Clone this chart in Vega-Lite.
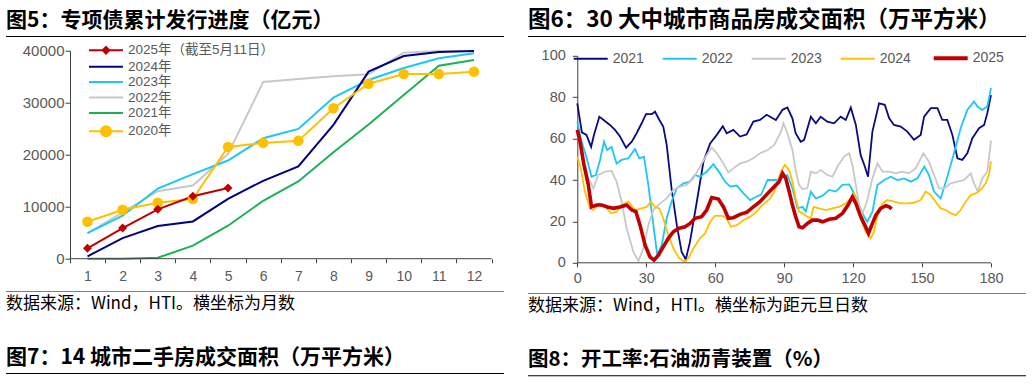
{
"$schema": "https://vega.github.io/schema/vega-lite/v6.json",
"background": "white",
"padding": {"left": 6, "top": 8, "right": 0, "bottom": 0},
"config": {
  "view": {"stroke": null},
  "font": "Liberation Sans, Noto Sans CJK SC",
  "title": {"anchor": "start", "font": "Noto Sans CJK SC", "fontSize": 21, "fontWeight": "bold", "color": "#000000", "offset": 5},
  "axis": {"domainColor": "#404040", "tickColor": "#404040", "labelColor": "#595959", "labelFont": "Liberation Sans", "grid": false, "title": null, "domainWidth": 1, "tickWidth": 1, "labelFlush": false, "labelOverlap": false}
},
"datasets": {
  "bonds": [
    {"s":"2021年","m":1,"v":0},{"s":"2021年","m":2,"v":0},{"s":"2021年","m":3,"v":190},{"s":"2021年","m":4,"v":2500},{"s":"2021年","m":5,"v":6340},{"s":"2021年","m":6,"v":11140},{"s":"2021年","m":7,"v":14850},{"s":"2021年","m":8,"v":20480},{"s":"2021年","m":9,"v":25790},{"s":"2021年","m":10,"v":31490},{"s":"2021年","m":11,"v":37120},{"s":"2021年","m":12,"v":38210},
    {"s":"2022年","m":1,"v":4930},{"s":"2022年","m":2,"v":8900},{"s":"2022年","m":3,"v":12990},{"s":"2022年","m":4,"v":14080},{"s":"2022年","m":5,"v":20160},{"s":"2022年","m":6,"v":33980},{"s":"2022年","m":7,"v":34560},{"s":"2022年","m":8,"v":35070},{"s":"2022年","m":9,"v":35460},{"s":"2022年","m":10,"v":39620},{"s":"2022年","m":11,"v":39950},{"s":"2022年","m":12,"v":39950},
    {"s":"2023年","m":1,"v":4930},{"s":"2023年","m":2,"v":8260},{"s":"2023年","m":3,"v":13500},{"s":"2023年","m":4,"v":16260},{"s":"2023年","m":5,"v":18880},{"s":"2023年","m":6,"v":23170},{"s":"2023年","m":7,"v":24960},{"s":"2023年","m":8,"v":30980},{"s":"2023年","m":9,"v":34370},{"s":"2023年","m":10,"v":36670},{"s":"2023年","m":11,"v":38530},{"s":"2023年","m":12,"v":39490},
    {"s":"2024年","m":1,"v":450},{"s":"2024年","m":2,"v":3970},{"s":"2024年","m":3,"v":6270},{"s":"2024年","m":4,"v":7170},{"s":"2024年","m":5,"v":11520},{"s":"2024年","m":6,"v":14980},{"s":"2024年","m":7,"v":17730},{"s":"2024年","m":8,"v":25730},{"s":"2024年","m":9,"v":35970},{"s":"2024年","m":10,"v":38980},{"s":"2024年","m":11,"v":39740},{"s":"2024年","m":12,"v":39940},
    {"s":"2020年","m":1,"v":7100},{"s":"2020年","m":2,"v":9410},{"s":"2020年","m":3,"v":10750},{"s":"2020年","m":4,"v":11460},{"s":"2020年","m":5,"v":21500},{"s":"2020年","m":6,"v":22270},{"s":"2020年","m":7,"v":22660},{"s":"2020年","m":8,"v":28930},{"s":"2020年","m":9,"v":33660},{"s":"2020年","m":10,"v":35520},{"s":"2020年","m":11,"v":35520},{"s":"2020年","m":12,"v":35970},
    {"s":"2025年（截至5月11日）","m":1,"v":2000},{"s":"2025年（截至5月11日）","m":2,"v":5900},{"s":"2025年（截至5月11日）","m":3,"v":9500},{"s":"2025年（截至5月11日）","m":4,"v":12000},{"s":"2025年（截至5月11日）","m":5,"v":13600}
  ],
  "house": [
    {"yr":"2021","day":0,"v":77},{"yr":"2021","day":2,"v":63},{"yr":"2021","day":4,"v":61.8},{"yr":"2021","day":6,"v":56},{"yr":"2021","day":7.3,"v":62},{"yr":"2021","day":9.6,"v":70.6},{"yr":"2021","day":12,"v":68.5},{"yr":"2021","day":14.2,"v":66.6},{"yr":"2021","day":16.4,"v":64.2},{"yr":"2021","day":18.6,"v":61},{"yr":"2021","day":21.2,"v":55.6},{"yr":"2021","day":23.7,"v":58.5},{"yr":"2021","day":25.8,"v":62.6},{"yr":"2021","day":28,"v":67.4},{"yr":"2021","day":29.9,"v":71.8},{"yr":"2021","day":32.4,"v":71.8},{"yr":"2021","day":33.8,"v":73},{"yr":"2021","day":35.7,"v":69},{"yr":"2021","day":37.4,"v":65.8},{"yr":"2021","day":38.9,"v":57},{"yr":"2021","day":41,"v":36},{"yr":"2021","day":43.3,"v":18.2},{"yr":"2021","day":45.4,"v":5.3},{"yr":"2021","day":47.2,"v":1.6},{"yr":"2021","day":49,"v":10},{"yr":"2021","day":52,"v":29.5},{"yr":"2021","day":54.9,"v":48.9},{"yr":"2021","day":57.8,"v":57.7},{"yr":"2021","day":60.7,"v":61.8},{"yr":"2021","day":63.3,"v":66},{"yr":"2021","day":65,"v":62.6},{"yr":"2021","day":67.9,"v":64.2},{"yr":"2021","day":70.8,"v":61},{"yr":"2021","day":73.7,"v":62},{"yr":"2021","day":76.6,"v":68.2},{"yr":"2021","day":79.5,"v":69},{"yr":"2021","day":82.4,"v":71.5},{"yr":"2021","day":86.4,"v":69},{"yr":"2021","day":89.3,"v":73.9},{"yr":"2021","day":91.4,"v":75},{"yr":"2021","day":93.6,"v":69.8},{"yr":"2021","day":95,"v":62.6},{"yr":"2021","day":97.2,"v":58.5},{"yr":"2021","day":98.7,"v":59.4},{"yr":"2021","day":101.6,"v":70.6},{"yr":"2021","day":103.8,"v":67.4},{"yr":"2021","day":105.9,"v":70.6},{"yr":"2021","day":108.8,"v":68.2},{"yr":"2021","day":111.7,"v":67.4},{"yr":"2021","day":114.6,"v":70.6},{"yr":"2021","day":116.8,"v":69},{"yr":"2021","day":119,"v":75},{"yr":"2021","day":121.2,"v":66.6},{"yr":"2021","day":123.3,"v":52},{"yr":"2021","day":125.1,"v":46.5},{"yr":"2021","day":126.5,"v":41.6},{"yr":"2021","day":128.4,"v":63.4},{"yr":"2021","day":131.3,"v":77},{"yr":"2021","day":133.8,"v":76.3},{"yr":"2021","day":135.7,"v":69.8},{"yr":"2021","day":137.8,"v":66.6},{"yr":"2021","day":140.7,"v":65.8},{"yr":"2021","day":143.6,"v":63.4},{"yr":"2021","day":146.5,"v":59.4},{"yr":"2021","day":149.4,"v":61.8},{"yr":"2021","day":150.9,"v":70.6},{"yr":"2021","day":153.8,"v":74.7},{"yr":"2021","day":156.7,"v":74.7},{"yr":"2021","day":158.8,"v":69},{"yr":"2021","day":161,"v":69},{"yr":"2021","day":163.2,"v":61.8},{"yr":"2021","day":165.4,"v":50.5},{"yr":"2021","day":167.5,"v":49.7},{"yr":"2021","day":169.7,"v":52.9},{"yr":"2021","day":171.9,"v":60.2},{"yr":"2021","day":174.8,"v":65},{"yr":"2021","day":177,"v":66.6},{"yr":"2021","day":178.4,"v":72.3},{"yr":"2021","day":180,"v":81},
    {"yr":"2022","day":0,"v":68.2},{"yr":"2022","day":1.9,"v":58.5},{"yr":"2022","day":4.1,"v":50.5},{"yr":"2022","day":6.2,"v":41.6},{"yr":"2022","day":8.1,"v":42.4},{"yr":"2022","day":9.9,"v":49.7},{"yr":"2022","day":11.6,"v":58.5},{"yr":"2022","day":13,"v":54.5},{"yr":"2022","day":14.9,"v":56},{"yr":"2022","day":17.1,"v":48},{"yr":"2022","day":19.3,"v":49.7},{"yr":"2022","day":22.2,"v":50.5},{"yr":"2022","day":25.1,"v":55},{"yr":"2022","day":27,"v":50.5},{"yr":"2022","day":29,"v":51.3},{"yr":"2022","day":30.9,"v":37.6},{"yr":"2022","day":33.1,"v":18.2},{"yr":"2022","day":34.8,"v":3.7},{"yr":"2022","day":36.7,"v":8.5},{"yr":"2022","day":38.9,"v":21.5},{"yr":"2022","day":41,"v":29.5},{"yr":"2022","day":43.3,"v":36},{"yr":"2022","day":46.2,"v":38.4},{"yr":"2022","day":49,"v":39.2},{"yr":"2022","day":51.2,"v":42.4},{"yr":"2022","day":53.4,"v":41.6},{"yr":"2022","day":56.3,"v":44},{"yr":"2022","day":59.2,"v":47.6},{"yr":"2022","day":62.1,"v":43.2},{"yr":"2022","day":64.3,"v":39.2},{"yr":"2022","day":66.5,"v":36.8},{"yr":"2022","day":69.4,"v":37.3},{"yr":"2022","day":72.3,"v":33.5},{"yr":"2022","day":75.2,"v":30.3},{"yr":"2022","day":78.1,"v":32},{"yr":"2022","day":80,"v":33},{"yr":"2022","day":82.8,"v":40},{"yr":"2022","day":87.1,"v":40},{"yr":"2022","day":91.4,"v":42.4},{"yr":"2022","day":93.6,"v":36},{"yr":"2022","day":95.8,"v":26.3},{"yr":"2022","day":98,"v":27},{"yr":"2022","day":99.4,"v":24.7},{"yr":"2022","day":101.6,"v":34.4},{"yr":"2022","day":103.8,"v":31.1},{"yr":"2022","day":106.7,"v":32.4},{"yr":"2022","day":109.6,"v":35.2},{"yr":"2022","day":112.5,"v":34.4},{"yr":"2022","day":115.4,"v":37.6},{"yr":"2022","day":118.3,"v":37.9},{"yr":"2022","day":120.4,"v":33.5},{"yr":"2022","day":122.6,"v":27.9},{"yr":"2022","day":124.8,"v":22.3},{"yr":"2022","day":126.2,"v":19.8},{"yr":"2022","day":128.4,"v":24.7},{"yr":"2022","day":130.6,"v":37.6},{"yr":"2022","day":133.5,"v":40},{"yr":"2022","day":136.4,"v":41.6},{"yr":"2022","day":139.3,"v":40},{"yr":"2022","day":142.2,"v":40.8},{"yr":"2022","day":145.1,"v":39.2},{"yr":"2022","day":148,"v":40.8},{"yr":"2022","day":151,"v":46.5},{"yr":"2022","day":153,"v":42.4},{"yr":"2022","day":155.2,"v":34.4},{"yr":"2022","day":158.1,"v":31.1},{"yr":"2022","day":161,"v":41.6},{"yr":"2022","day":163.9,"v":52.9},{"yr":"2022","day":166.8,"v":65},{"yr":"2022","day":169.7,"v":73.9},{"yr":"2022","day":172.6,"v":77.9},{"yr":"2022","day":174.1,"v":75.5},{"yr":"2022","day":176.2,"v":73.9},{"yr":"2022","day":178.4,"v":75.5},{"yr":"2022","day":180,"v":84.5},
    {"yr":"2023","day":0,"v":62},{"yr":"2023","day":2.6,"v":50.5},{"yr":"2023","day":4.8,"v":40.8},{"yr":"2023","day":7,"v":36},{"yr":"2023","day":9.1,"v":42.4},{"yr":"2023","day":12,"v":44},{"yr":"2023","day":14.9,"v":44.4},{"yr":"2023","day":17.1,"v":39.2},{"yr":"2023","day":19.3,"v":29.5},{"yr":"2023","day":21.5,"v":16.6},{"yr":"2023","day":24.4,"v":5.3},{"yr":"2023","day":26.6,"v":0.8},{"yr":"2023","day":28.7,"v":6.9},{"yr":"2023","day":30.9,"v":18.2},{"yr":"2023","day":33.1,"v":25.5},{"yr":"2023","day":36,"v":28.7},{"yr":"2023","day":38.9,"v":31.1},{"yr":"2023","day":41.8,"v":35.2},{"yr":"2023","day":44.7,"v":36.8},{"yr":"2023","day":47.6,"v":37.6},{"yr":"2023","day":50.5,"v":40.8},{"yr":"2023","day":53.4,"v":46.5},{"yr":"2023","day":56.3,"v":52.1},{"yr":"2023","day":58.5,"v":55.6},{"yr":"2023","day":60.7,"v":52.9},{"yr":"2023","day":63.6,"v":48},{"yr":"2023","day":65.7,"v":43.7},{"yr":"2023","day":67.9,"v":45.6},{"yr":"2023","day":70.8,"v":48},{"yr":"2023","day":73.7,"v":48.9},{"yr":"2023","day":76.6,"v":50.5},{"yr":"2023","day":79.5,"v":52.9},{"yr":"2023","day":82.8,"v":54.5},{"yr":"2023","day":85.7,"v":56.9},{"yr":"2023","day":88.6,"v":63.4},{"yr":"2023","day":89.7,"v":67.4},{"yr":"2023","day":91.4,"v":62.6},{"yr":"2023","day":93.6,"v":54.5},{"yr":"2023","day":95,"v":44.8},{"yr":"2023","day":96.5,"v":37.6},{"yr":"2023","day":98,"v":35.6},{"yr":"2023","day":100.1,"v":36},{"yr":"2023","day":101.6,"v":44},{"yr":"2023","day":103.8,"v":43.2},{"yr":"2023","day":105.9,"v":44.8},{"yr":"2023","day":108.8,"v":42.4},{"yr":"2023","day":111,"v":41.6},{"yr":"2023","day":113.2,"v":46.5},{"yr":"2023","day":116.1,"v":51.3},{"yr":"2023","day":118.3,"v":52.9},{"yr":"2023","day":119.7,"v":47.3},{"yr":"2023","day":121.2,"v":37.6},{"yr":"2023","day":122.6,"v":27.9},{"yr":"2023","day":124.1,"v":23.9},{"yr":"2023","day":126,"v":29.5},{"yr":"2023","day":128.4,"v":40.8},{"yr":"2023","day":130.6,"v":48},{"yr":"2023","day":132.8,"v":44},{"yr":"2023","day":135.7,"v":44},{"yr":"2023","day":138.6,"v":43.2},{"yr":"2023","day":141.4,"v":44},{"yr":"2023","day":144.3,"v":43.2},{"yr":"2023","day":147.2,"v":45.6},{"yr":"2023","day":150.6,"v":52.9},{"yr":"2023","day":153,"v":48.9},{"yr":"2023","day":155.2,"v":42.4},{"yr":"2023","day":157.4,"v":36},{"yr":"2023","day":159.6,"v":36},{"yr":"2023","day":162.5,"v":38.4},{"yr":"2023","day":165.4,"v":39.2},{"yr":"2023","day":168.3,"v":40},{"yr":"2023","day":171.2,"v":43.2},{"yr":"2023","day":172.6,"v":38.4},{"yr":"2023","day":174.3,"v":34.4},{"yr":"2023","day":176.2,"v":40.8},{"yr":"2023","day":178.4,"v":44},{"yr":"2023","day":180,"v":59},
    {"yr":"2024","day":0,"v":51.3},{"yr":"2024","day":1.5,"v":45.6},{"yr":"2024","day":3.3,"v":34.4},{"yr":"2024","day":5.5,"v":26.3},{"yr":"2024","day":7,"v":25.5},{"yr":"2024","day":9.6,"v":28.7},{"yr":"2024","day":12,"v":27},{"yr":"2024","day":14.9,"v":23.9},{"yr":"2024","day":17.1,"v":24.7},{"yr":"2024","day":19.3,"v":27.9},{"yr":"2024","day":22.2,"v":29.5},{"yr":"2024","day":25.1,"v":25.5},{"yr":"2024","day":28,"v":26.3},{"yr":"2024","day":30.2,"v":27},{"yr":"2024","day":32.1,"v":29.5},{"yr":"2024","day":33.8,"v":27},{"yr":"2024","day":35.7,"v":26.3},{"yr":"2024","day":37.4,"v":21.5},{"yr":"2024","day":39.6,"v":13.4},{"yr":"2024","day":41.8,"v":6.9},{"yr":"2024","day":44.4,"v":2.1},{"yr":"2024","day":46.6,"v":0.5},{"yr":"2024","day":48.3,"v":2.1},{"yr":"2024","day":50.5,"v":6.9},{"yr":"2024","day":53.4,"v":11.8},{"yr":"2024","day":55.6,"v":14.2},{"yr":"2024","day":57.8,"v":19.8},{"yr":"2024","day":59.9,"v":22.7},{"yr":"2024","day":62.8,"v":22.7},{"yr":"2024","day":65,"v":21.5},{"yr":"2024","day":66.8,"v":17.4},{"yr":"2024","day":69.4,"v":18.2},{"yr":"2024","day":72.3,"v":20.6},{"yr":"2024","day":75.2,"v":22.3},{"yr":"2024","day":78.1,"v":24.7},{"yr":"2024","day":80.5,"v":27.9},{"yr":"2024","day":83.9,"v":31},{"yr":"2024","day":85.7,"v":34.4},{"yr":"2024","day":88.6,"v":44},{"yr":"2024","day":90.3,"v":47.3},{"yr":"2024","day":92.2,"v":44.8},{"yr":"2024","day":93.6,"v":39.2},{"yr":"2024","day":95,"v":31.1},{"yr":"2024","day":96.5,"v":24.7},{"yr":"2024","day":98,"v":23.9},{"yr":"2024","day":100.1,"v":22.3},{"yr":"2024","day":101.6,"v":21.5},{"yr":"2024","day":102.8,"v":27},{"yr":"2024","day":105.2,"v":26.3},{"yr":"2024","day":108.1,"v":25.5},{"yr":"2024","day":111,"v":26.3},{"yr":"2024","day":113.9,"v":27},{"yr":"2024","day":116.8,"v":28.7},{"yr":"2024","day":119,"v":31.1},{"yr":"2024","day":120.4,"v":33.5},{"yr":"2024","day":121.9,"v":27.9},{"yr":"2024","day":123.3,"v":21.5},{"yr":"2024","day":125.5,"v":15},{"yr":"2024","day":127.7,"v":11.8},{"yr":"2024","day":129.1,"v":15},{"yr":"2024","day":130.6,"v":23},{"yr":"2024","day":132.8,"v":28.7},{"yr":"2024","day":134.9,"v":30.3},{"yr":"2024","day":137.8,"v":29.5},{"yr":"2024","day":140.7,"v":28.7},{"yr":"2024","day":143.6,"v":28.7},{"yr":"2024","day":146.5,"v":29},{"yr":"2024","day":149.4,"v":30.3},{"yr":"2024","day":151.6,"v":34.4},{"yr":"2024","day":153.8,"v":32.7},{"yr":"2024","day":155.9,"v":29.5},{"yr":"2024","day":158.1,"v":26.3},{"yr":"2024","day":160.3,"v":25.5},{"yr":"2024","day":162.5,"v":23.9},{"yr":"2024","day":164.6,"v":23},{"yr":"2024","day":166.8,"v":25.5},{"yr":"2024","day":169,"v":29.5},{"yr":"2024","day":171.2,"v":32.7},{"yr":"2024","day":173.3,"v":33.5},{"yr":"2024","day":175.5,"v":35.2},{"yr":"2024","day":177.7,"v":38.4},{"yr":"2024","day":179.1,"v":42.4},{"yr":"2024","day":180,"v":49},
    {"yr":"2025","day":0,"v":64.2},{"yr":"2025","day":1.2,"v":58.5},{"yr":"2025","day":2.9,"v":47.3},{"yr":"2025","day":4.8,"v":37.6},{"yr":"2025","day":6.2,"v":27},{"yr":"2025","day":8.4,"v":27.9},{"yr":"2025","day":10.6,"v":27.9},{"yr":"2025","day":13.1,"v":27},{"yr":"2025","day":15.7,"v":26.3},{"yr":"2025","day":18.6,"v":27},{"yr":"2025","day":21.5,"v":27.9},{"yr":"2025","day":23.7,"v":25.5},{"yr":"2025","day":25.5,"v":24.7},{"yr":"2025","day":27.3,"v":18.2},{"yr":"2025","day":29.5,"v":8.5},{"yr":"2025","day":31.6,"v":2.9},{"yr":"2025","day":33.4,"v":1.3},{"yr":"2025","day":35.3,"v":3.7},{"yr":"2025","day":37.4,"v":7.7},{"yr":"2025","day":39.6,"v":11.8},{"yr":"2025","day":41.8,"v":15},{"yr":"2025","day":44,"v":16.6},{"yr":"2025","day":46.9,"v":17.4},{"yr":"2025","day":49.1,"v":19},{"yr":"2025","day":51.2,"v":21.5},{"yr":"2025","day":54.1,"v":22.3},{"yr":"2025","day":56.3,"v":25.5},{"yr":"2025","day":58.5,"v":31.5},{"yr":"2025","day":61.4,"v":30.8},{"yr":"2025","day":63.6,"v":27},{"yr":"2025","day":65.7,"v":21.5},{"yr":"2025","day":67.9,"v":21.8},{"yr":"2025","day":70.8,"v":23.4},{"yr":"2025","day":73.7,"v":24.4},{"yr":"2025","day":76.6,"v":27},{"yr":"2025","day":79.5,"v":29.5},{"yr":"2025","day":82.8,"v":33.5},{"yr":"2025","day":85.7,"v":36.8},{"yr":"2025","day":87.8,"v":39.2},{"yr":"2025","day":89.3,"v":43.2},{"yr":"2025","day":90.7,"v":40.8},{"yr":"2025","day":92.2,"v":34.4},{"yr":"2025","day":93.6,"v":27.9},{"yr":"2025","day":95,"v":22.3},{"yr":"2025","day":96.5,"v":17.4},{"yr":"2025","day":98,"v":16.9},{"yr":"2025","day":100.1,"v":19},{"yr":"2025","day":102.3,"v":20.6},{"yr":"2025","day":104.5,"v":20.6},{"yr":"2025","day":106.7,"v":19.8},{"yr":"2025","day":109.6,"v":21},{"yr":"2025","day":112.5,"v":21.5},{"yr":"2025","day":115.4,"v":23.9},{"yr":"2025","day":117.8,"v":27.9},{"yr":"2025","day":119.7,"v":31.9},{"yr":"2025","day":121.2,"v":28.7},{"yr":"2025","day":123.3,"v":22.3},{"yr":"2025","day":125.1,"v":18.2},{"yr":"2025","day":126.7,"v":14.2},{"yr":"2025","day":128.1,"v":18.2},{"yr":"2025","day":129.9,"v":23},{"yr":"2025","day":132,"v":26.3},{"yr":"2025","day":134.2,"v":27.6},{"yr":"2025","day":135.7,"v":27},{"yr":"2025","day":136.8,"v":26}
  ]
},
"concat": [
  {
    "concat": [
      {
        "concat": [
          {
            "width": 498, "height": 1,
            "title": {"text": "图5：专项债累计发行进度（亿元）"},
            "data": {"values": [{"k": 1}]},
            "mark": {"type": "rect", "color": "#000000"},
            "encoding": {
              "x": {"datum": 0, "type": "quantitative", "scale": {"domain": [0, 1]}, "axis": null},
              "x2": {"datum": 1},
              "y": {"datum": 0, "type": "quantitative", "scale": {"domain": [0, 1]}, "axis": null},
              "y2": {"datum": 1}
            }
          },
          {
            "concat": [
              {
                "width": 498, "height": 208,
                "layer": [
                  {
                    "data": {"name": "bonds"},
                    "mark": {"type": "line", "strokeWidth": 2},
                    "encoding": {
                      "x": {"field": "m", "type": "quantitative",
                        "scale": {"domain": [-1.319, 12.854], "nice": false, "zero": false},
                        "axis": {"values": [0.5,1.5,2.5,3.5,4.5,5.5,6.5,7.5,8.5,9.5,10.5,11.5,12.5], "domain": false, "tickSize": 4, "labelPadding": 7, "labelFontSize": 14, "labelOffset": 17.57, "labelExpr": "datum.value < 12 ? format(datum.value + 0.5, 'd') : ''"}},
                      "y": {"field": "v", "type": "quantitative",
                        "scale": {"domain": [0, 40000], "nice": false},
                        "axis": {"values": [0,10000,20000,30000,40000], "format": "d", "offset": -64, "tickSize": 5, "labelPadding": 1, "labelFontSize": 15}},
                      "color": {"field": "s", "type": "nominal",
                        "scale": {"domain": ["2025年（截至5月11日）","2024年","2023年","2022年","2021年","2020年"], "range": ["#C00000","#000080","#1CC7F5","#C8C8C8","#1DB156","#FFC000"]},
                        "legend": {
                          "orient": "none", "legendX": 82, "legendY": -7.4, "direction": "vertical", "title": null,
                          "symbolSize": 144, "labelOffset": 26, "rowPadding": 1.4,
                          "labelFont": "Liberation Sans, Noto Sans CJK SC", "labelFontSize": 13.5, "labelColor": "#595959", "labelLimit": 400,
                          "encode": {"symbols": {"update": {
                            "shape": {"signal": "datum.value === '2025年（截至5月11日）' ? 'M-1,0H4.667M1.833,-0.55L2.383,0L1.833,0.55L1.283,0Z' : datum.value === '2020年' ? 'M-1,0H4.667M1,0A0.833,0.833 0 1,0 2.667,0A0.833,0.833 0 1,0 1,0Z' : 'M-1,0H4.667'"},
                            "fill": {"signal": "datum.value === '2025年（截至5月11日）' ? '#C00000' : datum.value === '2024年' ? '#000080' : datum.value === '2023年' ? '#1CC7F5' : datum.value === '2022年' ? '#C8C8C8' : datum.value === '2021年' ? '#1DB156' : '#FFC000'"},
                            "stroke": {"signal": "datum.value === '2025年（截至5月11日）' ? '#C00000' : datum.value === '2024年' ? '#000080' : datum.value === '2023年' ? '#1CC7F5' : datum.value === '2022年' ? '#C8C8C8' : datum.value === '2021年' ? '#1DB156' : '#FFC000'"},
                            "strokeWidth": {"value": 2},
                            "opacity": {"value": 1},
                            "fillOpacity": {"value": 1},
                            "strokeOpacity": {"value": 1}
                          }}}
                        }}
                    }
                  },
                  {
                    "data": {"name": "bonds"},
                    "transform": [{"filter": "datum.s === '2025年（截至5月11日）' || datum.s === '2020年'"}],
                    "mark": {"type": "point", "filled": true, "opacity": 1},
                    "encoding": {
                      "x": {"field": "m", "type": "quantitative"},
                      "y": {"field": "v", "type": "quantitative"},
                      "color": {"field": "s", "type": "nominal"},
                      "shape": {"condition": {"test": "datum.s === '2020年'", "value": "circle"}, "value": "diamond"},
                      "size": {"condition": {"test": "datum.s === '2020年'", "value": 110}, "value": 80}
                    }
                  },
                  {
                    "data": {"values": [{}]},
                    "mark": {"type": "rule", "color": "#404040", "strokeWidth": 1},
                    "encoding": {
                      "x": {"datum": 0.5, "type": "quantitative"},
                      "x2": {"datum": 12.5},
                      "y": {"datum": 0, "type": "quantitative"}
                    }
                  }
                ]
              },
              {
                "width": 498, "height": 1,
                "title": {"text": "数据来源：Wind，HTI。横坐标为月数", "orient": "bottom", "fontSize": 17, "fontWeight": "normal", "offset": 4},
                "data": {"values": [{"k": 1}]},
                "mark": {"type": "rect", "color": "#7F7F7F"},
                "encoding": {
                  "x": {"datum": 0, "type": "quantitative", "scale": {"domain": [0, 1]}, "axis": null},
                  "x2": {"datum": 1},
                  "y": {"datum": 0, "type": "quantitative", "scale": {"domain": [0, 1]}, "axis": null},
                  "y2": {"datum": 1}
                }
              }
            ],
            "columns": 1, "spacing": 7.2,
            "resolve": {"scale": {"x": "independent", "y": "independent", "color": "independent"}, "legend": {"color": "independent"}}
          }
        ],
        "columns": 1, "spacing": 5.7,
        "resolve": {"scale": {"x": "independent", "y": "independent", "color": "independent"}, "legend": {"color": "independent"}}
      },
      {
        "width": 498, "height": 1,
        "title": {"text": "图7：14 城市二手房成交面积（万平方米）", "fontSize": 21},
        "data": {"values": [{"k": 1}]},
        "mark": {"type": "rect", "color": "#000000"},
        "encoding": {
          "x": {"datum": 0, "type": "quantitative", "scale": {"domain": [0, 1]}, "axis": null},
          "x2": {"datum": 1},
          "y": {"datum": 0, "type": "quantitative", "scale": {"domain": [0, 1]}, "axis": null},
          "y2": {"datum": 1}
        }
      }
    ],
    "columns": 1, "spacing": 35,
    "resolve": {"scale": {"x": "independent", "y": "independent", "color": "independent"}, "legend": {"color": "independent"}}
  },
  {
    "concat": [
      {
        "concat": [
          {
            "width": 498, "height": 1,
            "title": {"text": "图6：30 大中城市商品房成交面积（万平方米）", "fontSize": 22.5},
            "data": {"values": [{"k": 1}]},
            "mark": {"type": "rect", "color": "#000000"},
            "encoding": {
              "x": {"datum": 0, "type": "quantitative", "scale": {"domain": [0, 1]}, "axis": null},
              "x2": {"datum": 1},
              "y": {"datum": 0, "type": "quantitative", "scale": {"domain": [0, 1]}, "axis": null},
              "y2": {"datum": 1}
            }
          },
          {
            "concat": [
              {
                "width": 498, "height": 207,
                "layer": [
                  {
                    "data": {"name": "house"},
                    "transform": [{"filter": "datum.yr !== '2025'"}],
                    "mark": {"type": "line", "strokeWidth": 1.8},
                    "encoding": {
                      "x": {"field": "day", "type": "quantitative", "scale": {"domain": [-21.45, 195.23], "nice": false, "zero": false},
                        "axis": {"values": [0,30,60,90,120,150,180], "domain": false, "tickSize": 4, "labelPadding": 5, "labelFontSize": 14.5}},
                      "y": {"field": "v", "type": "quantitative", "scale": {"domain": [0, 100], "nice": false},
                        "axis": {"values": [0,20,40,60,80,100], "offset": -49.3, "tickSize": 5, "labelPadding": 7, "labelFontSize": 14.5}},
                      "color": {"field": "yr", "type": "nominal",
                        "scale": {"domain": ["2021","2022","2023","2024","2025"], "range": ["#0A0A80","#1CC7F5","#C8C8C8","#FFC000","#C00000"]},
                        "legend": {
                          "orient": "none", "legendX": 35, "legendY": -14.3, "padding": 9.7, "direction": "horizontal", "columns": 5, "title": null,
                          "symbolSize": 144, "labelOffset": 26, "columnPadding": 14,
                          "labelFont": "Liberation Sans", "labelFontSize": 14, "labelColor": "#595959",
                          "encode": {"symbols": {"update": {
                            "shape": {"value": "M-1,0H4.667"},
                            "stroke": {"signal": "datum.value === '2021' ? '#0A0A80' : datum.value === '2022' ? '#1CC7F5' : datum.value === '2023' ? '#C8C8C8' : datum.value === '2024' ? '#FFC000' : '#C00000'"},
                            "strokeWidth": {"signal": "datum.value === '2025' ? 4 : 2"},
                            "opacity": {"value": 1},
                            "strokeOpacity": {"value": 1}
                          }}}
                        }}
                    }
                  },
                  {
                    "data": {"name": "house"},
                    "transform": [{"filter": "datum.yr === '2025'"}],
                    "mark": {"type": "line", "strokeWidth": 3.6},
                    "encoding": {
                      "x": {"field": "day", "type": "quantitative"},
                      "y": {"field": "v", "type": "quantitative"},
                      "color": {"field": "yr", "type": "nominal"}
                    }
                  },
                  {
                    "data": {"values": [{}]},
                    "mark": {"type": "rule", "color": "#404040", "strokeWidth": 1},
                    "encoding": {
                      "x": {"datum": 0, "type": "quantitative"},
                      "x2": {"datum": 180},
                      "y": {"datum": 0, "type": "quantitative"}
                    }
                  }
                ]
              },
              {
                "width": 498, "height": 1,
                "title": {"text": "数据来源：Wind，HTI。横坐标为距元旦日数", "orient": "bottom", "fontSize": 17, "fontWeight": "normal", "offset": 4},
                "data": {"values": [{"k": 1}]},
                "mark": {"type": "rect", "color": "#7F7F7F"},
                "encoding": {
                  "x": {"datum": 0, "type": "quantitative", "scale": {"domain": [0, 1]}, "axis": null},
                  "x2": {"datum": 1},
                  "y": {"datum": 0, "type": "quantitative", "scale": {"domain": [0, 1]}, "axis": null},
                  "y2": {"datum": 1}
                }
              }
            ],
            "columns": 1, "spacing": 7.2,
            "resolve": {"scale": {"x": "independent", "y": "independent", "color": "independent"}, "legend": {"color": "independent"}}
          }
        ],
        "columns": 1, "spacing": 3.8,
        "resolve": {"scale": {"x": "independent", "y": "independent", "color": "independent"}, "legend": {"color": "independent"}}
      },
      {
        "width": 498, "height": 1,
        "title": {"text": "图8：开工率:石油沥青装置（%）", "fontSize": 20.5},
        "data": {"values": [{"k": 1}]},
        "mark": {"type": "rect", "color": "#000000"},
        "encoding": {
          "x": {"datum": 0, "type": "quantitative", "scale": {"domain": [0, 1]}, "axis": null},
          "x2": {"datum": 1},
          "y": {"datum": 0, "type": "quantitative", "scale": {"domain": [0, 1]}, "axis": null},
          "y2": {"datum": 1}
        }
      }
    ],
    "columns": 1, "spacing": 35.3,
    "resolve": {"scale": {"x": "independent", "y": "independent", "color": "independent"}, "legend": {"color": "independent"}}
  }
],
"columns": 2, "spacing": 18,
"resolve": {"scale": {"x": "independent", "y": "independent", "color": "independent"}, "legend": {"color": "independent"}}
}
